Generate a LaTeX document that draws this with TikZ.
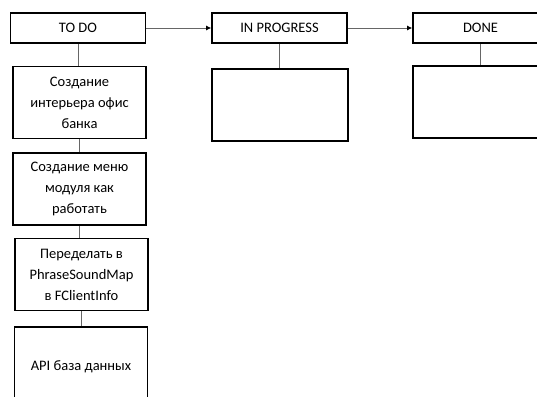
\documentclass[tikz,border=0pt]{standalone}
\usepackage{fontspec}
\setmainfont{Carlito}
\usetikzlibrary{arrows.meta}
\tikzset{
    card/.style={draw=black,line width=1.6pt,fill=white,align=center,
        inner sep=0pt,font=\fontsize{14.5}{21}\selectfont},
    head/.style={card,minimum width=135pt,minimum height=30pt},
    task/.style={card,minimum width=133pt,minimum height=72pt},
    link/.style={draw=black!60,line width=0.9pt},
    flow/.style={link,-{Latex[length=5pt,width=5pt,black]}}
}
\begin{document}
\begin{tikzpicture}[x=1pt,y=-1pt]
    \useasboundingbox (0,0) rectangle (537,396);
    % column heads
    \node[head] (todo) at (78,28) {TO DO};
    \node[head] (inprog) at (279.5,28) {IN PROGRESS};
    \node[head] (done) at (480.5,28) {DONE};
    % to do cards
    \node[task] (t1) at (79.5,102.5) {Создание\\интерьера офис\\банка};
    \node[task] (t2) at (79.5,189) {Создание меню\\модуля как\\работать};
    \node[task] (t3) at (81.5,274.5) {Переделать в\\PhraseSoundMap\\в FClientInfo};
    \node[task,minimum height=80pt] (t4) at (81,367) {API база данных};
    % empty cards
    \node[task,minimum width=136pt] (p1) at (280,105) {};
    \node[task,minimum width=136pt] (d1) at (481,102) {};
    % links
    \draw[flow] (todo) -- (inprog);
    \draw[flow] (inprog) -- (done);
    \draw[link] (todo.south) -- (todo.south |- t1.north);
    \draw[link] (t1.south) -- (t1.south |- t2.north);
    \draw[link] (t2.south) -- (t2.south |- t3.north);
    \draw[link] (t3.south) -- (t3.south |- t4.north);
    \draw[link] (inprog.south) -- (inprog.south |- p1.north);
    \draw[link] (done.south) -- (done.south |- d1.north);
\end{tikzpicture}
\end{document}
